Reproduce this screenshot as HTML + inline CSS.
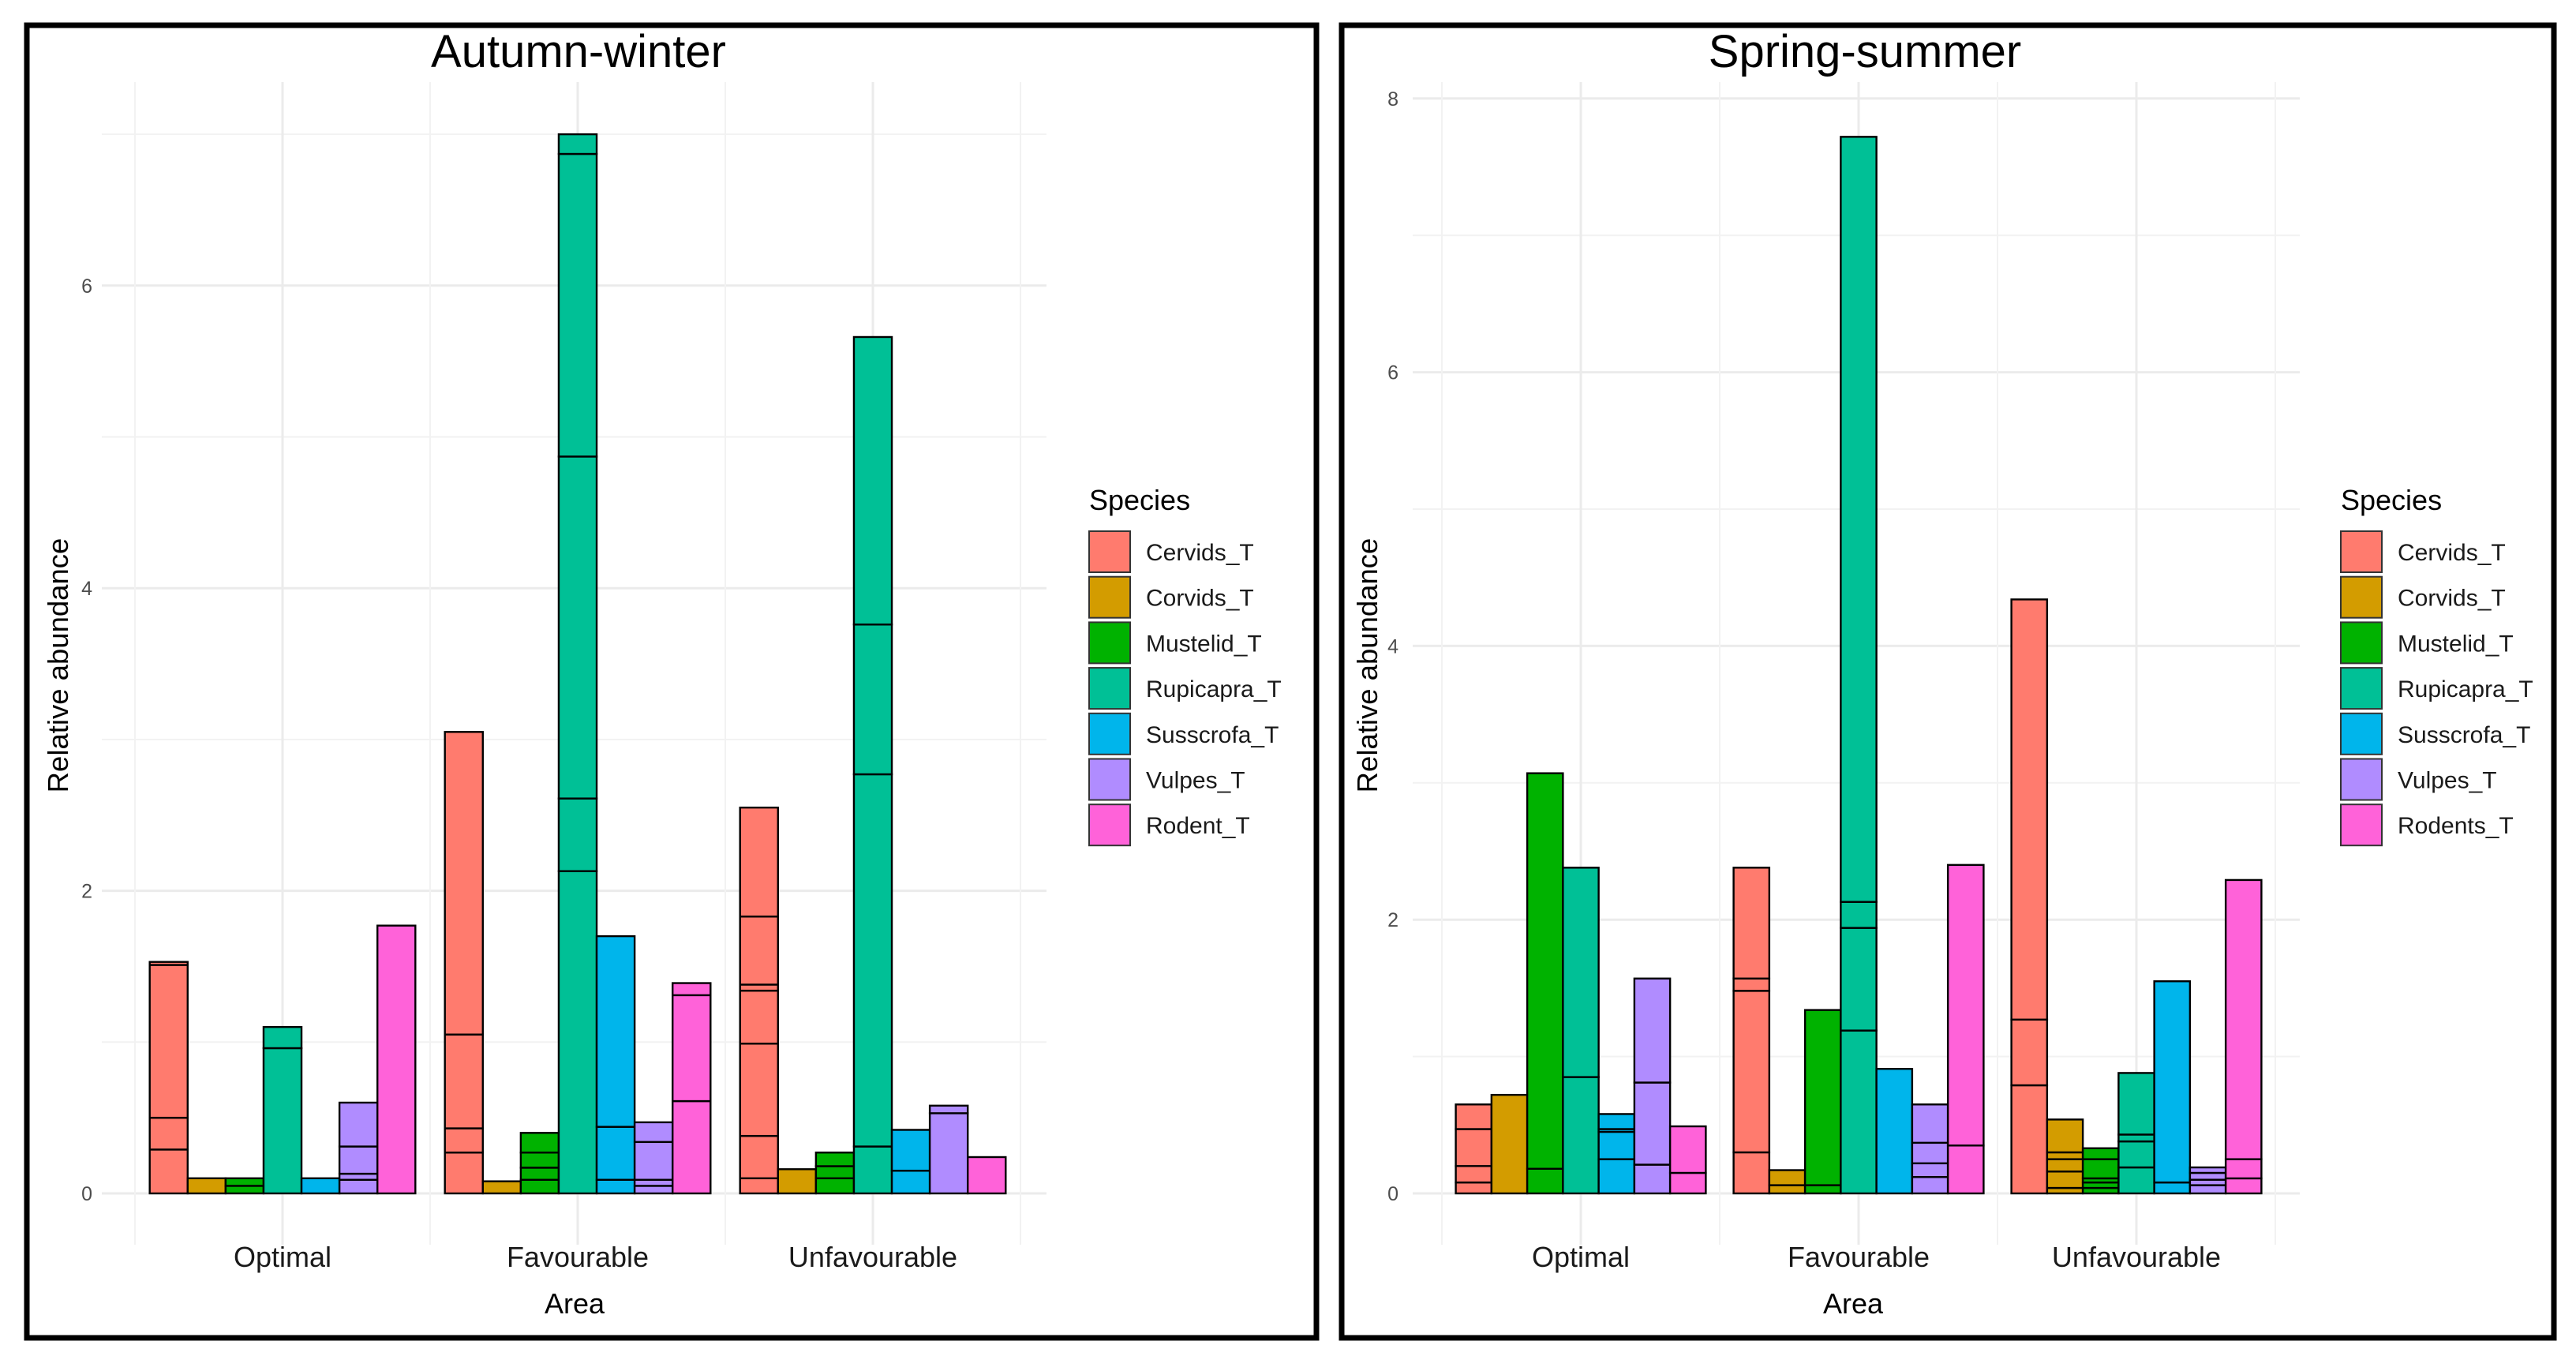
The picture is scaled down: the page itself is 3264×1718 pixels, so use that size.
<!DOCTYPE html>
<html><head><meta charset="utf-8">
<style>
html,body{margin:0;padding:0;background:#fff;}
svg{display:block;font-family:"Liberation Sans",Arial,sans-serif;}
</style></head>
<body>
<svg id="chart" width="3264" height="1718" viewBox="0 0 3264 1718" xmlns="http://www.w3.org/2000/svg">
<rect x="0" y="0" width="3264" height="1718" fill="#fff"/>
</svg>
<script>
const categories = ["Optimal", "Favourable", "Unfavourable"];
const species = ["Cervids_T", "Corvids_T", "Mustelid_T", "Rupicapra_T", "Susscrofa_T", "Vulpes_T", "Rodent_T"];
const speciesSS = ["Cervids_T", "Corvids_T", "Mustelid_T", "Rupicapra_T", "Susscrofa_T", "Vulpes_T", "Rodents_T"];
const colors = ["#FF7B6E", "#D39C00", "#00B200", "#00C096", "#00B5EB", "#B08CFF", "#FF62D9"];
const ticksAW = [0, 2, 4, 6];
const ticksSS = [0, 2, 4, 6, 8];

// Autumn-winter stacked segment values [category][species][segments]
const awOptimal = [[0.29,0.21,1.01,0.02],[0.10],[0.05,0.05],[0.96,0.14],[0.10],[0.09,0.04,0.18,0.29],[1.77]];
const awFavourable = [[0.27,0.16,0.62,2.0],[0.08],[0.09,0.08,0.10,0.13],[2.13,0.48,2.26,2.0,0.13],[0.09,0.35,1.26],[0.05,0.04,0.25,0.13],[0.61,0.70,0.08]];
const awUnfavourable = [[0.10,0.28,0.61,0.35,0.04,0.45,0.72],[0.16],[0.10,0.08,0.09],[0.31,2.46,0.99,1.90],[0.15,0.27],[0.53,0.05],[0.24]];
// Spring-summer
const ssOptimal = [[0.08,0.12,0.27,0.18],[0.72],[0.18,2.89],[0.85,1.53],[0.25,0.20,0.02,0.11],[0.21,0.60,0.76],[0.15,0.34]];
const ssFavourable = [[0.30,1.18,0.09,0.81],[0.06,0.11],[0.06,1.28],[1.19,0.75,0.19,5.59],[0.91],[0.12,0.10,0.15,0.28],[0.35,2.05]];
const ssUnfavourable = [[0.79,0.48,3.07],[0.04,0.12,0.09,0.05,0.24],[0.04,0.04,0.03,0.14,0.08],[0.19,0.19,0.05,0.45],[0.08,1.47],[0.06,0.04,0.05,0.04],[0.11,0.14,2.04]];

const NS = "http://www.w3.org/2000/svg";
const svg = document.getElementById("chart");
function mk(tag, attrs, parent, text){
  const e = document.createElementNS(NS, tag);
  for (const k in attrs) e.setAttribute(k, attrs[k]);
  if (text !== undefined) e.textContent = text;
  (parent || svg).appendChild(e);
  return e;
}

function panel(cfg){
  const g = mk("g", {});
  
  
  const yMap = v => cfg.y0 - v * cfg.unit;
  const xMap = i => cfg.cx0 + i * cfg.step;
  // minor horizontal grid
  for (let v = 1; v <= cfg.ymaxGrid; v += 2) {
    const l = mk("line", {x1: cfg.gx1, x2: cfg.gx2, y1: yMap(v), y2: yMap(v), stroke: "#f2f2f2", "stroke-width": 2}, g);
    
    
  }
  cfg.ticks.forEach(t => {
    const l = mk("line", {x1: cfg.gx1, x2: cfg.gx2, y1: yMap(t), y2: yMap(t), stroke: "#ebebeb", "stroke-width": 3}, g);
    
    
    const tl = mk("text", {x: cfg.tickX, y: yMap(t) + 9, "text-anchor": "end", "font-size": 25, fill: "#4d4d4d"}, g, String(t));
    
    
  });
  // vertical grids
  for (let i = -0.5; i <= categories.length - 0.5; i += 0.5) {
    const major = Number.isInteger(i);
    const l = mk("line", {x1: xMap(i), x2: xMap(i), y1: cfg.gy1, y2: cfg.gy2, stroke: major ? "#ebebeb" : "#f2f2f2", "stroke-width": major ? 3 : 2}, g);
    
    
  }
  // bars
  const bw = cfg.step * 0.9 / 7;
  cfg.data.forEach((cat, ci) => {
    const left = xMap(ci) - cfg.step * 0.45;
    cat.forEach((segs, si) => {
      let acc = 0;
      segs.forEach(s => {
        const r = mk("rect", {x: left + si * bw, y: yMap(acc + s), width: bw, height: s * cfg.unit, fill: colors[si], stroke: "#000", "stroke-width": 2.4}, g);
        
        
        acc += s;
      });
    });
    const cl = mk("text", {x: xMap(ci), y: cfg.catY, "text-anchor": "middle", "font-size": 36, fill: "#1a1a1a"}, g, categories[ci]);
    
    
  });
  const t = mk("text", {x: cfg.titleX, y: 85, "text-anchor": "middle", "font-size": 58, fill: "#000"}, g, cfg.title);
  
  
  const xt = mk("text", {x: cfg.areaX, y: 1664, "text-anchor": "middle", "font-size": 36, fill: "#000"}, g, "Area");
  
  
  const yt = mk("text", {x: 0, y: 0, "text-anchor": "middle", "font-size": 36.5, fill: "#000", transform: `translate(${cfg.ytX},${cfg.ytY}) rotate(-90)`}, g, "Relative abundance");
  
  
  // legend
  const lt = mk("text", {x: cfg.legX, y: 646, "font-size": 36, fill: "#000"}, g, "Species");
  
  
  cfg.labels.forEach((lab, i) => {
    const cy = 699 + i * 57.7;
    const k = mk("rect", {x: cfg.legX, y: cy - 26, width: 52, height: 52, fill: colors[i], stroke: "#333", "stroke-width": 2}, g);
    
    
    const tx = mk("text", {x: cfg.legX + 72, y: cy + 11, "font-size": 30, fill: "#1a1a1a"}, g, lab);
    
    
  });
  const fr = mk("rect", {x: cfg.fx, y: 32, width: cfg.fw, height: 1663, fill: "none", stroke: "#000", "stroke-width": 7}, g);
  
  
}

panel({name: "autumn-winter-panel", title: "Autumn-winter", data: [awOptimal, awFavourable, awUnfavourable], labels: species,
  y0: 1512, unit: 191.7, cx0: 358, step: 374, ticks: ticksAW, ymaxGrid: 7,
  gx1: 129, gx2: 1326, gy1: 104, gy2: 1577, tickX: 117, catY: 1605, titleX: 733, areaX: 728,
  ytX: 86, ytY: 843, legX: 1380, fx: 34, fw: 1634});
panel({name: "spring-summer-panel", title: "Spring-summer", data: [ssOptimal, ssFavourable, ssUnfavourable], labels: speciesSS,
  y0: 1512, unit: 173.4, cx0: 2003, step: 352, ticks: ticksSS, ymaxGrid: 7,
  gx1: 1790, gx2: 2914, gy1: 104, gy2: 1577, tickX: 1772, catY: 1605, titleX: 2363, areaX: 2348,
  ytX: 1745, ytY: 843, legX: 2966, fx: 1700, fw: 1536});
</script>
</body></html>
